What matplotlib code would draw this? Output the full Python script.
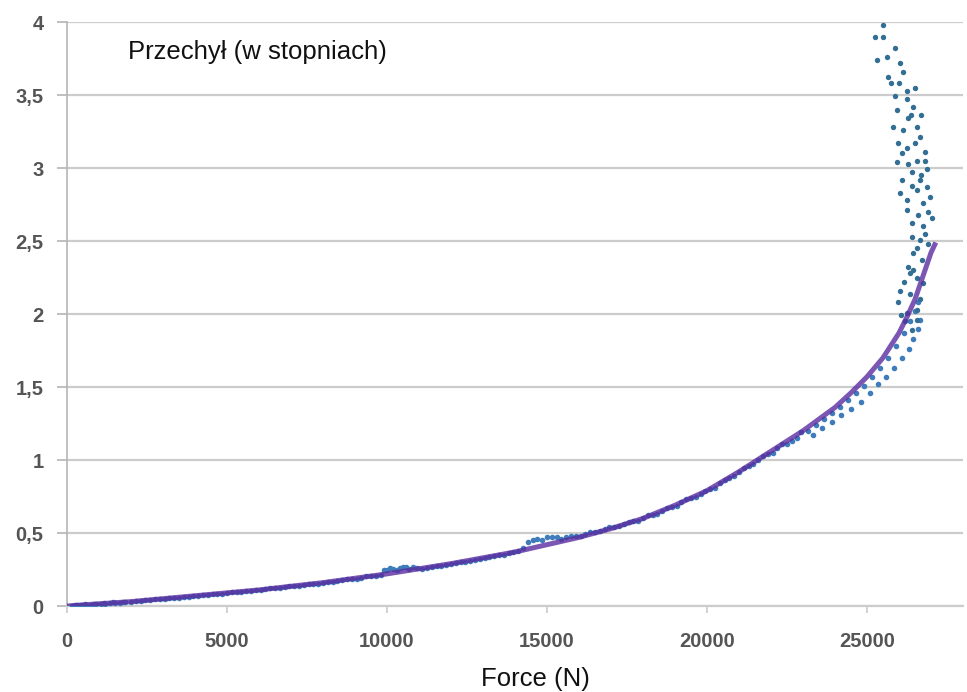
import matplotlib
matplotlib.use("Agg")
import matplotlib.pyplot as plt
from matplotlib.ticker import FuncFormatter

plt.rcParams['font.family'] = ['Liberation Sans', 'DejaVu Sans']

# ---- data ----
main_x = [150, 300, 450, 600, 750, 900, 1050, 1200, 1350, 1500, 1650, 1800, 2000,
          2300, 2600, 2900, 3200, 3500, 3800, 4100, 4400, 4700, 5000, 5300, 5600,
          5900, 6200, 6500, 6800, 7100, 7400, 7700, 8000, 8300, 8600, 8900, 9200,
          9500, 9800, 10000, 10200, 10400, 10600, 10800, 11100, 11400, 11700,
          12000, 12300, 12600, 12900, 13200, 13500, 13800, 14100, 14400, 14700,
          15000, 15300, 15600, 15900, 16200, 16500, 16800, 17100, 17400, 17700,
          18000, 18300, 18600, 18900, 19200, 19500, 19800, 20100, 20400, 20700,
          21000, 21300, 21600, 21900, 22200, 22500, 22800,
          250, 550, 850, 1150, 1450, 1750, 2150, 2450, 2750, 3050, 3350, 3650,
          3950, 4250, 4550, 4850, 5150, 5450, 5750, 6050, 6350, 6650, 6950, 7250,
          7550, 7850, 8150, 8450, 8750, 9050, 9350, 9650, 9900, 10100, 10300,
          10500, 10700, 10950, 11250, 11550, 11850, 12150, 12450, 12750, 13050,
          13350, 13650, 13950, 14250, 14550, 14850, 15150, 15450, 15750, 16050,
          16350, 16650, 16950, 17250, 17550, 17850, 18150, 18450, 18750, 19050,
          19350, 19650, 19950, 20250, 20550, 20850, 21150, 21450, 21750, 22050,
          22350, 22650, 22950,
          23150, 23400, 23650, 23900, 24150, 24400, 24650, 24900, 25150, 25400,
          25650, 25900, 26150, 26350, 26500, 26600,
          23300, 23600, 23900, 24200, 24500, 24800, 25100, 25350, 25600, 25850,
          26100, 26300, 26450, 26600, 26650]
main_y = [0.002, 0.004, 0.006, 0.008, 0.010, 0.012, 0.014, 0.016, 0.018, 0.020,
          0.023, 0.026, 0.030, 0.035, 0.040, 0.046, 0.052, 0.058, 0.065, 0.071,
          0.077, 0.083, 0.089, 0.095, 0.101, 0.107, 0.114, 0.121, 0.128, 0.135,
          0.142, 0.150, 0.158, 0.167, 0.176, 0.185, 0.195, 0.205, 0.215, 0.250,
          0.255, 0.260, 0.265, 0.268, 0.255, 0.265, 0.275, 0.288, 0.300, 0.310,
          0.320, 0.335, 0.350, 0.360, 0.380, 0.440, 0.460, 0.470, 0.470, 0.475,
          0.480, 0.490, 0.510, 0.525, 0.540, 0.560, 0.580, 0.600, 0.625, 0.650,
          0.680, 0.710, 0.740, 0.770, 0.800, 0.840, 0.880, 0.920, 0.960, 1.000,
          1.040, 1.080, 1.110, 1.150,
          0.008, 0.012, 0.015, 0.020, 0.024, 0.028, 0.036, 0.040, 0.046, 0.050,
          0.058, 0.060, 0.070, 0.072, 0.082, 0.084, 0.094, 0.096, 0.106, 0.108,
          0.120, 0.122, 0.134, 0.136, 0.150, 0.152, 0.166, 0.168, 0.184, 0.186,
          0.204, 0.206, 0.245, 0.260, 0.250, 0.270, 0.255, 0.262, 0.258, 0.272,
          0.280, 0.296, 0.303, 0.318, 0.326, 0.345, 0.352, 0.372, 0.400, 0.455,
          0.450, 0.475, 0.462, 0.482, 0.478, 0.505, 0.512, 0.540, 0.545, 0.575,
          0.585, 0.620, 0.630, 0.670, 0.685, 0.730, 0.745, 0.790, 0.810, 0.865,
          0.890, 0.945, 0.970, 1.030, 1.050, 1.110, 1.130, 1.190,
          1.200, 1.240, 1.280, 1.320, 1.360, 1.410, 1.460, 1.510, 1.570, 1.630,
          1.700, 1.780, 1.870, 1.950, 2.020, 2.080,
          1.170, 1.220, 1.260, 1.310, 1.350, 1.400, 1.460, 1.520, 1.570, 1.630,
          1.700, 1.760, 1.830, 1.900, 1.960]

upper_x = [25500, 25250, 25500, 25313, 25625, 25875, 25656, 26031, 26125, 26250,
           26500, 25875, 25938, 26250, 26438, 26281, 25813, 26125, 26563, 26656,
           25969, 26250, 26500, 26813, 25938, 26281, 26563, 26813, 26094, 26406,
           26656, 26875, 26031, 26250, 26563, 26875, 26969, 26250, 26750, 27031,
           26406, 26750, 26406, 26656, 26813, 26438, 26719, 26281, 26563, 26750,
           26031, 26344, 26656, 25969, 26250, 26563, 26563, 26406,
           25750, 26000, 26375, 26700, 26100, 26700, 26400, 26900, 26600, 26550,
           26900, 26350, 26150, 26200, 26050, 26450]
upper_y = [3.98, 3.90, 3.90, 3.74, 3.76, 3.82, 3.62, 3.72, 3.66, 3.53,
           3.55, 3.49, 3.40, 3.47, 3.42, 3.34, 3.28, 3.26, 3.28, 3.21,
           3.17, 3.14, 3.17, 3.11, 3.04, 3.03, 3.05, 3.05, 2.92, 2.97,
           2.92, 2.99, 2.83, 2.78, 2.85, 2.87, 2.80, 2.71, 2.76, 2.66,
           2.62, 2.60, 2.53, 2.51, 2.55, 2.42, 2.37, 2.32, 2.25, 2.21,
           2.16, 2.14, 2.10, 2.08, 2.01, 2.03, 1.96, 1.89,
           3.58, 3.58, 3.36, 3.36, 3.10, 2.95, 2.88, 2.70, 2.68, 2.45,
           2.48, 2.28, 2.22, 1.95, 1.99, 2.30]

fit_x = [0, 2000, 4000, 6000, 8000, 10000, 12000, 14000, 16000, 17000, 18000,
         19000, 20000, 21000, 22000, 22500, 23000, 23500, 24000, 24500, 25000,
         25500, 26000, 26250, 26500, 26750, 27000, 27150]
fit_y = [0.0, 0.03, 0.07, 0.11, 0.16, 0.22, 0.29, 0.37, 0.47, 0.53, 0.60,
         0.69, 0.79, 0.92, 1.06, 1.13, 1.20, 1.28, 1.36, 1.46, 1.57,
         1.70, 1.87, 1.98, 2.10, 2.26, 2.42, 2.49]

y_ticks = [0, 0.5, 1, 1.5, 2, 2.5, 3, 3.5, 4]
x_ticks = [0, 5000, 10000, 15000, 20000, 25000]

fig = plt.figure(figsize=(9.67, 6.92), dpi=100)
ax = fig.add_axes([67/967, 1 - 606/692, (963-67)/967, (606-22)/692])

ax.scatter(main_x, main_y, s=16, color='#3f7cbc', zorder=3, linewidths=0)
ax.scatter(upper_x, upper_y, s=15, color='#336e94', zorder=3, linewidths=0)
ax.plot(fit_x, fit_y, color='#5a2ca0', lw=3.6, alpha=0.8, zorder=4,
        solid_capstyle='butt')

ax.set_xlim(0, 28000)
ax.set_ylim(0, 4)
ax.set_yticks(y_ticks)
ax.set_xticks(x_ticks)
ax.yaxis.set_major_formatter(FuncFormatter(
    lambda v, p: ('%g' % v).replace('.', ',')))
ax.xaxis.set_major_formatter(FuncFormatter(lambda v, p: '%d' % v))

ax.grid(axis='y', color='#cccccc', lw=1.6, zorder=0)
ax.set_axisbelow(True)
for s in ['top', 'right']:
    ax.spines[s].set_visible(False)
ax.spines['left'].set_color('#b5b5b5')
ax.spines['left'].set_linewidth(1.2)
ax.spines['bottom'].set_color('#cccccc')
ax.spines['bottom'].set_linewidth(1.6)

ax.tick_params(axis='y', length=7, width=1.2, color='#b5b5b5', pad=10,
               labelsize=14.5, labelcolor='#555555')
ax.tick_params(axis='x', length=5, width=1.2, color='#cccccc', pad=14,
               labelsize=14.5, labelcolor='#555555')
for lab in ax.get_xticklabels() + ax.get_yticklabels():
    lab.set_fontweight('bold')

ax.text(128/967, 1 - 52/692, 'Przechył (w stopniach)', transform=fig.transFigure,
        fontsize=18.5, color='#111111', va='center', ha='left')
ax.set_xlabel('Force (N)', fontsize=18.5, color='#111111')
ax.xaxis.set_label_coords((535-67)/896, -0.105)

fig.savefig('out.png', dpi=100)
